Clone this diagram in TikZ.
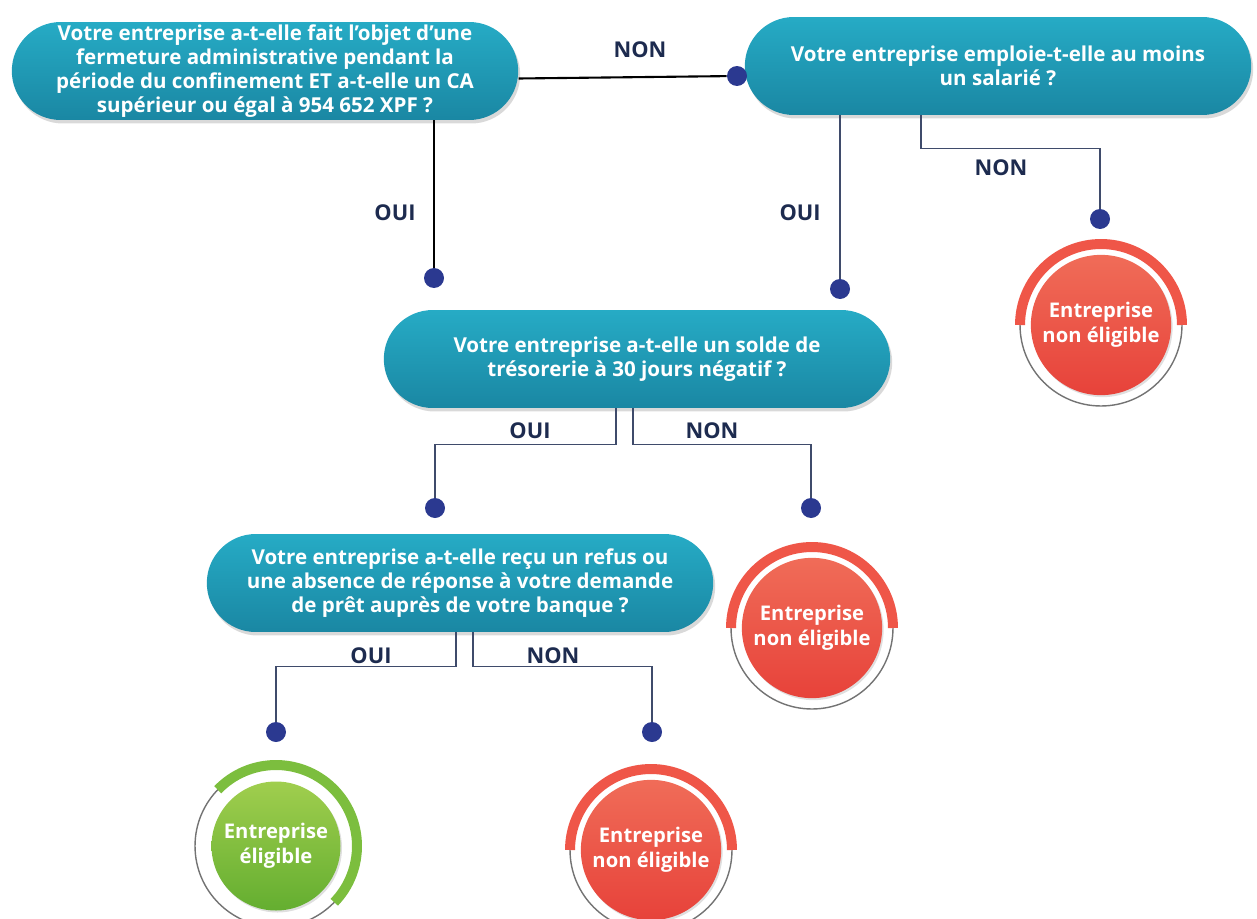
\documentclass[tikz,border=0pt]{standalone}
\usepackage{fontspec}
\setmainfont{Open Sans}
\usetikzlibrary{shapes.misc,shadows}

\definecolor{tealtop}{HTML}{26ABC5}
\definecolor{tealbot}{HTML}{1A87A3}
\definecolor{redtop}{HTML}{F06C58}
\definecolor{redbot}{HTML}{E7423A}
\definecolor{ringred}{HTML}{EF5648}
\definecolor{greentop}{HTML}{A0CE4E}
\definecolor{greenbot}{HTML}{64AE30}
\definecolor{ringgreen}{HTML}{7CBE3E}
\definecolor{navy}{HTML}{2B3990}
\definecolor{lblblue}{HTML}{1D2B4F}
\definecolor{wirecol}{HTML}{3F4B6B}

\tikzset{
  question/.style={rounded rectangle, minimum width=10.2cm, minimum height=1.96cm,
    inner sep=1pt, top color=tealtop, bottom color=tealbot, text=white, align=center,
    font=\bfseries\fontsize{11.7}{13.7}\selectfont,
    drop shadow={opacity=0.3, shadow xshift=0.04cm, shadow yshift=-0.07cm}},
  joint/.style={circle, fill=navy, inner sep=0pt, minimum size=0.4cm},
  lbl/.style={text=lblblue, font=\bfseries\fontsize{12.4}{14}\selectfont},
  link/.style={draw=wirecol, line width=0.8pt},
  verdict/.style={circle, minimum size=2.52cm, text=white, align=center,
    font=\bfseries\fontsize{11.5}{14}\selectfont,
    drop shadow={opacity=0.25, shadow xshift=0.03cm, shadow yshift=-0.04cm}},
  nogo/.style={verdict, top color=redtop, bottom color=redbot},
  go/.style={verdict, top color=greentop, bottom color=greenbot},
  ring/.style={draw=black!55, line width=0.8pt},
  band/.style={line width=0.2cm}
}

\begin{document}
\begin{tikzpicture}[x=0.02cm, y=-0.02cm]
  \useasboundingbox (0,0) rectangle (1257,919);

  % Questions
  \node[question] (q1) at (265,71) {Votre entreprise a-t-elle fait l’objet d’une\\fermeture administrative pendant la\\période du confinement ET a-t-elle un CA\\supérieur ou égal à 954 652 XPF ?};
  \node[question] (q2) at (998,66) {Votre entreprise emploie-t-elle au moins\\un salarié ?};
  \node[question] (q3) at (637,359) {Votre entreprise a-t-elle un solde de\\trésorerie à 30 jours négatif ?};
  \node[question] (q4) at (460,583) {Votre entreprise a-t-elle reçu un refus ou\\une absence de réponse à votre demande\\de prêt auprès de votre banque ?};

  % Joints
  \node[joint] (d1) at (737,76) {};
  \node[joint] (d2) at (434,278) {};
  \node[joint] (d3) at (840,289) {};
  \node[joint] (d4) at (1100,219) {};
  \node[joint] (d5) at (435,508) {};
  \node[joint] (d6) at (811,508) {};
  \node[joint] (d7) at (276,732) {};
  \node[joint] (d8) at (652,732) {};

  % Links
  \draw[line width=1.2pt] ([yshift=-0.15cm]q1.east) -- (d1);
  \draw[line width=1.2pt] (q1.south -| d2) -- (d2);
  \draw[link] (q2.south -| d3) -- (d3);
  \draw[link] (q2.south -| 921,0) -- ++(0,33) -| (d4);
  \draw[link] (q3.south -| 616,0) -- ++(0,36) -| (d5);
  \draw[link] (q3.south -| 633,0) -- ++(0,36) -| (d6);
  \draw[link] (q4.south -| 456,0) -- ++(0,34) -| (d7);
  \draw[link] (q4.south -| 473,0) -- ++(0,34) -| (d8);

  % Labels
  \node[lbl] (n1) at (640,50) {NON};
  \node[lbl] (o1) at (395,213) {OUI};
  \node[lbl] (o2) at (800,213) {OUI};
  \node[lbl] (n2) at (1001,168) {NON};
  \node[lbl] (o3) at (530,431) {OUI};
  \node[lbl] (n3) at (712,431) {NON};
  \node[lbl] (o4) at (371,656) {OUI};
  \node[lbl] (n4) at (553,656) {NON};

  % Verdicts
  \foreach \n/\x/\y in {r1/1101/325, r2/812/628, r3/651/850} {
    \node[nogo] (\n) at (\x,\y) {Entreprise\\non éligible};
    \draw[ring] (\n.center) circle (1.62cm);
    \draw[band, ringred] ([shift={(180:1.62cm)}]\n.center) arc[start angle=180, end angle=0, radius=1.62cm];
  }
  \node[go] (r4) at (276,846) {Entreprise\\éligible};
  \draw[ring] (r4.center) circle (1.62cm);
  \draw[band, ringgreen] ([shift={(136:1.62cm)}]r4.center) arc[start angle=136, end angle=-44, radius=1.62cm];
\end{tikzpicture}
\end{document}
